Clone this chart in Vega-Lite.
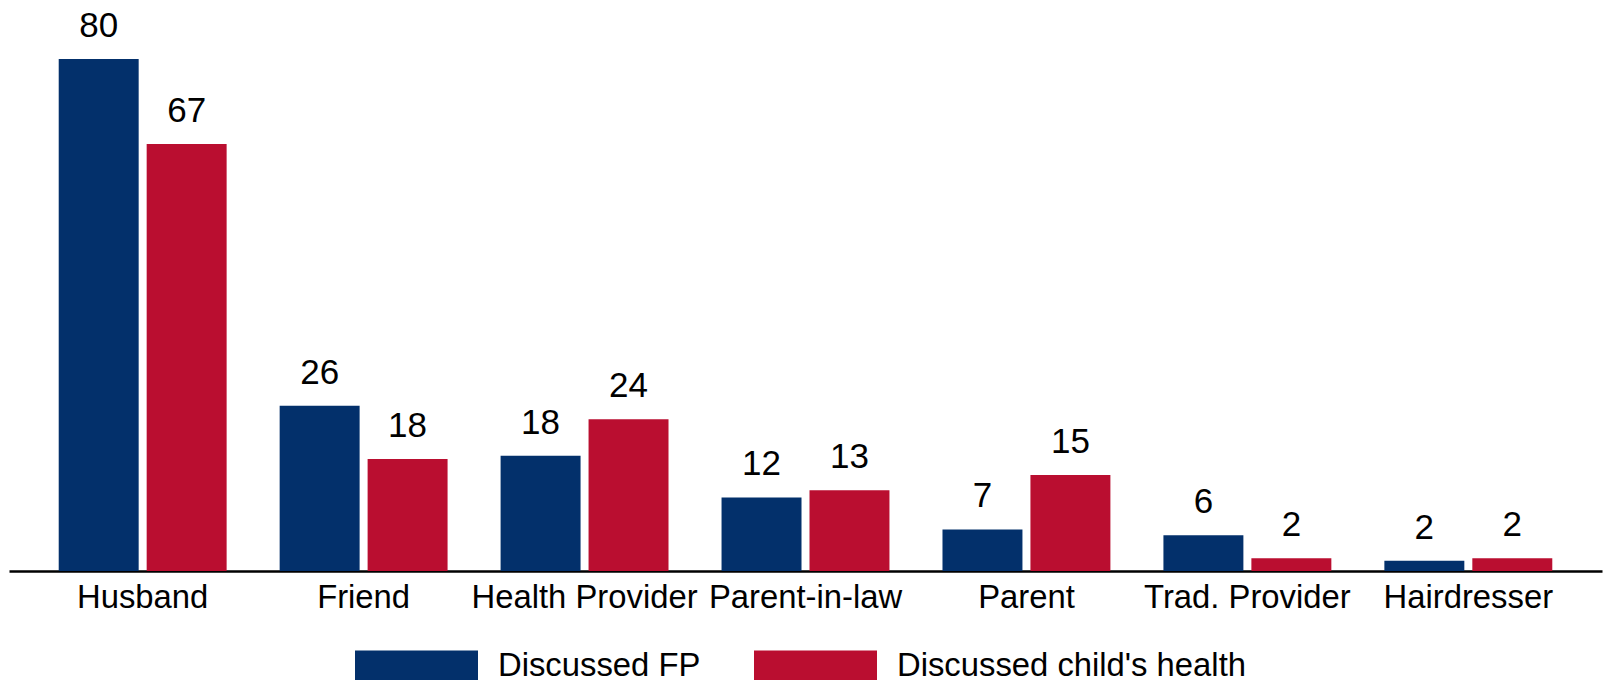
{
  "$schema": "https://vega.github.io/schema/vega-lite/v6.json",
  "width": 1593,
  "height": 571,
  "autosize": "none",
  "padding": {"left": 9, "top": 0, "right": 2, "bottom": 109},
  "background": "white",
  "config": {
    "view": {"stroke": null},
    "font": "Liberation Sans",
    "axis": {"grid": false}
  },
  "data": {
    "values": [
      {"source": "Husband", "series": "Discussed FP", "value": 80, "label": "80"},
      {"source": "Husband", "series": "Discussed child's health", "value": 66.7, "label": "67"},
      {"source": "Friend", "series": "Discussed FP", "value": 25.8, "label": "26"},
      {"source": "Friend", "series": "Discussed child's health", "value": 17.5, "label": "18"},
      {"source": "Health Provider", "series": "Discussed FP", "value": 18, "label": "18"},
      {"source": "Health Provider", "series": "Discussed child's health", "value": 23.7, "label": "24"},
      {"source": "Parent-in-law", "series": "Discussed FP", "value": 11.5, "label": "12"},
      {"source": "Parent-in-law", "series": "Discussed child's health", "value": 12.6, "label": "13"},
      {"source": "Parent", "series": "Discussed FP", "value": 6.5, "label": "7"},
      {"source": "Parent", "series": "Discussed child's health", "value": 15, "label": "15"},
      {"source": "Trad. Provider", "series": "Discussed FP", "value": 5.6, "label": "6"},
      {"source": "Trad. Provider", "series": "Discussed child's health", "value": 2, "label": "2"},
      {"source": "Hairdresser", "series": "Discussed FP", "value": 1.6, "label": "2"},
      {"source": "Hairdresser", "series": "Discussed child's health", "value": 2, "label": "2"}
    ]
  },
  "encoding": {
    "x": {
      "field": "source",
      "type": "nominal",
      "sort": null,
      "scale": {"paddingInner": 0.24, "paddingOuter": 0.225},
      "axis": {
        "title": null,
        "labelAngle": 0,
        "ticks": false,
        "domainColor": "black",
        "domainWidth": 2.5,
        "labelFontSize": 32.8,
        "labelColor": "black",
        "labelPadding": 10,
        "labelOverlap": false,
        "labelLimit": 0
      }
    },
    "xOffset": {
      "field": "series",
      "type": "nominal",
      "sort": ["Discussed FP", "Discussed child's health"],
      "scale": {"paddingInner": 0.0909, "paddingOuter": 0}
    },
    "y": {
      "field": "value",
      "type": "quantitative",
      "scale": {"domain": [0, 89.2], "nice": false},
      "axis": null
    }
  },
  "layer": [
    {
      "mark": {"type": "bar"},
      "encoding": {
        "color": {
          "field": "series",
          "type": "nominal",
          "sort": ["Discussed FP", "Discussed child's health"],
          "scale": {
            "domain": ["Discussed FP", "Discussed child's health"],
            "range": ["#03306B", "#BA0E30"]
          },
          "legend": {
            "title": null,
            "orient": "none",
            "direction": "horizontal",
            "legendX": 346,
            "legendY": 604,
            "padding": 0,
            "symbolType": "M-1,-0.25H1V0.25H-1Z",
            "symbolSize": 15129,
            "symbolStrokeWidth": 0,
            "symbolOpacity": 1,
            "labelFontSize": 32.8,
            "labelColor": "black",
            "labelOffset": 20,
            "columnPadding": 53,
            "labelLimit": 0
          }
        }
      }
    },
    {
      "mark": {"type": "text", "baseline": "alphabetic", "dy": -22, "fontSize": 35, "color": "black"},
      "encoding": {
        "text": {"field": "label"}
      }
    }
  ]
}
